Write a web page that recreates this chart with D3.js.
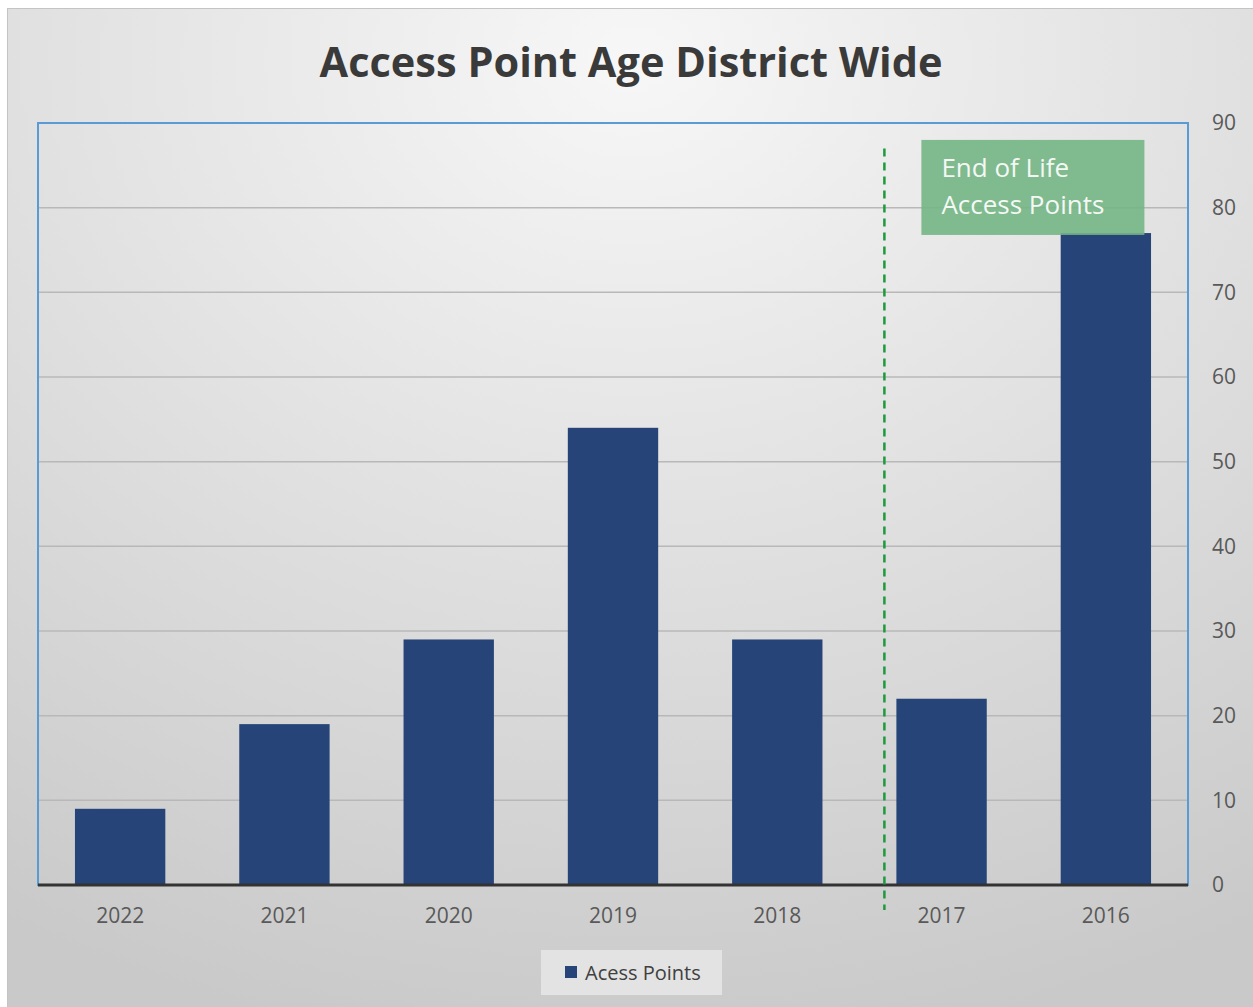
<!DOCTYPE html>
<html>
<head>
<meta charset="utf-8">
<script src="https://cdn.jsdelivr.net/npm/d3@7"></script>
<style>
  body { margin: 0; background: #fff; }
  text { font-family: "Open Sans", "Noto Sans", sans-serif; }
</style>
</head>
<body>
<div id="chart"></div>
<script>
// chart data
const categories = ["2022", "2021", "2020", "2019", "2018", "2017", "2016"];
const accessPoints = [9, 19, 29, 54, 29, 22, 77];
const yTicks = [0, 10, 20, 30, 40, 50, 60, 70, 80, 90];
const seriesName = "Acess Points";
const chartTitle = "Access Point Age District Wide";
const noteLines = ["End of Life", "Access Points"];

const W = 1253, H = 1007;
const margin = {top: 123, right: 65, bottom: 122, left: 38};
const width = W - margin.left - margin.right;
const height = H - margin.top - margin.bottom;

const svg = d3.select("#chart").append("svg")
  .attr("width", W)
  .attr("height", H);

// background gradient
const defs = svg.append("defs");
const grad = defs.append("radialGradient")
  .attr("id", "bg")
  .attr("cx", "50%").attr("cy", "5%")
  .attr("r", "100%")
  .attr("gradientUnits", "objectBoundingBox");
grad.append("stop").attr("offset", "0%").attr("stop-color", "#f7f7f7");
grad.append("stop").attr("offset", "100%").attr("stop-color", "#c9c9c9");

svg.append("rect")
  .attr("x", 7.5).attr("y", 8.5)
  .attr("width", W - 7).attr("height", H - 8)
  .attr("fill", "url(#bg)")
  .attr("stroke", "#c4c4c4")
  .attr("stroke-width", 1);

svg.append("text")
  .attr("x", 631).attr("y", 77)
  .attr("text-anchor", "middle")
  .attr("font-size", 41.5)
  .attr("font-weight", "bold")
  .attr("fill", "#3a3a3a")
  .text(chartTitle);

const g = svg.append("g")
  .attr("transform", "translate(" + margin.left + "," + margin.top + ")");

const x = d3.scaleBand().domain(categories).range([0, width]).paddingInner(0.45).paddingOuter(0.225);
const y = d3.scaleLinear().domain([0, 90]).range([height, 0]);

// gridlines
g.append("g")
  .selectAll("line")
  .data(yTicks.slice(1))
  .join("line")
  .attr("x1", 0).attr("x2", width)
  .attr("y1", d => y(d)).attr("y2", d => y(d))
  .attr("stroke", "#b8b8b8")
  .attr("stroke-width", 1.5);

// bars
g.append("g")
  .selectAll("rect")
  .data(accessPoints)
  .join("rect")
  .attr("x", (d, i) => x(categories[i]))
  .attr("y", d => y(d))
  .attr("width", x.bandwidth())
  .attr("height", d => height - y(d))
  .attr("fill", "#264478");

// plot area border
g.append("rect")
  .attr("x", 0).attr("y", 0)
  .attr("width", width).attr("height", height)
  .attr("fill", "none")
  .attr("stroke", "#5b9bd5")
  .attr("stroke-width", 2);

// zero line
g.append("line")
  .attr("x1", 0).attr("x2", width)
  .attr("y1", y(0)).attr("y2", y(0))
  .attr("stroke", "#333")
  .attr("stroke-width", 3);

// right axis
const yAxis = g.append("g")
  .attr("transform", "translate(" + width + ",0)")
  .call(d3.axisRight(y).tickValues(yTicks).tickSize(0).tickPadding(24));
yAxis.select(".domain").remove();
yAxis.selectAll("text")
  .attr("font-size", 21)
  .attr("fill", "#595959")
  .style("font-family", "'Open Sans', sans-serif");

// bottom axis
const xAxis = g.append("g")
  .attr("transform", "translate(0," + height + ")")
  .call(d3.axisBottom(x).tickSize(0).tickPadding(23));
xAxis.select(".domain").remove();
xAxis.selectAll("text")
  .attr("font-size", 21)
  .attr("fill", "#595959")
  .style("font-family", "'Open Sans', sans-serif");

// end-of-life divider
const divX = x("2017") - 12;
g.append("line")
  .attr("x1", divX).attr("x2", divX)
  .attr("y1", y(87)).attr("y2", height + 25)
  .attr("stroke", "#1e9a3c")
  .attr("stroke-width", 2.5)
  .attr("stroke-dasharray", "8,6");

// note box
const boxX = x("2017") + 25, boxY = y(88);
g.append("rect")
  .attr("x", boxX).attr("y", boxY)
  .attr("width", 223).attr("height", 95)
  .attr("fill", "#74b585")
  .attr("opacity", 0.9);
g.append("text")
  .attr("x", boxX + 20).attr("y", boxY + 37)
  .attr("font-size", 26)
  .attr("fill", "#f4f8f4")
  .selectAll("tspan")
  .data(noteLines)
  .join("tspan")
  .attr("x", boxX + 20)
  .attr("dy", (d, i) => i === 0 ? 0 : 37)
  .text(d => d);

// legend
const leg = svg.append("g").attr("transform", "translate(541,950)");
leg.append("rect")
  .attr("width", 181).attr("height", 45)
  .attr("fill", "#e3e3e3");
leg.append("rect")
  .attr("x", 24).attr("y", 16)
  .attr("width", 12).attr("height", 12)
  .attr("fill", "#264478");
leg.append("text")
  .attr("x", 44).attr("y", 30)
  .attr("font-size", 20)
  .attr("fill", "#404040")
  .text(seriesName);
</script>
</body>
</html>
